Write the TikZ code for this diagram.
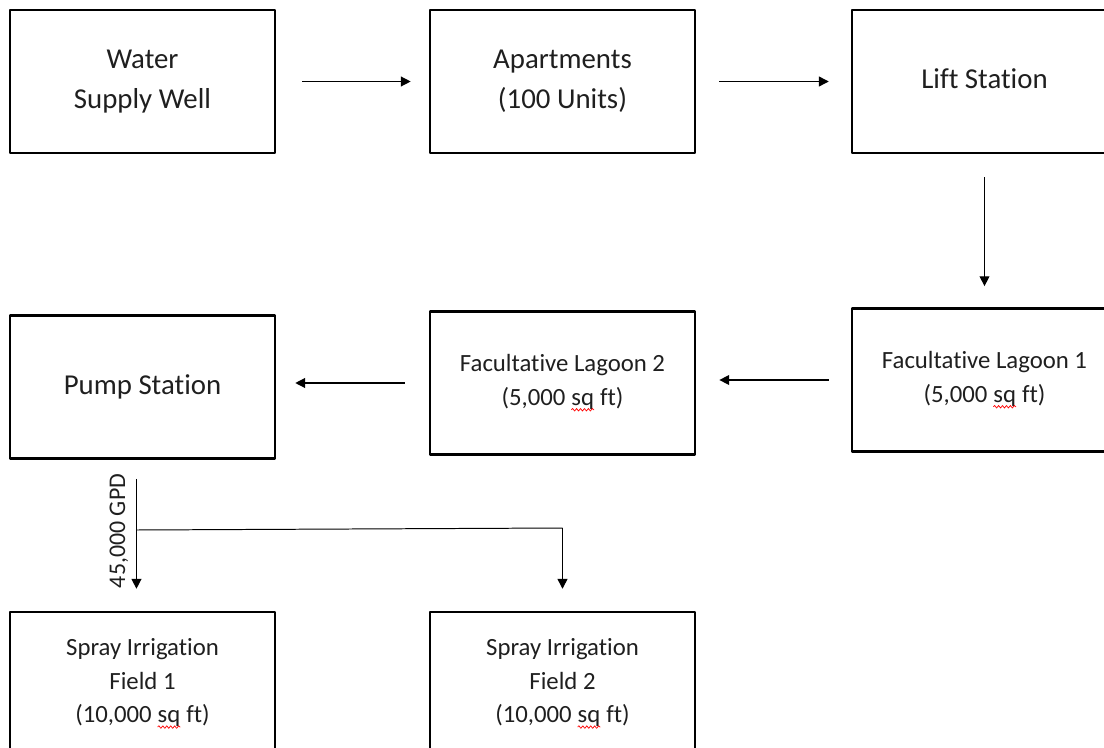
\documentclass[tikz,border=0pt]{standalone}
\usepackage{fontspec}
\setmainfont{Carlito}[Ligatures=NoCommon]
\usetikzlibrary{arrows.meta, decorations.pathmorphing}
% red wavy spell-check mark under a word
\newcommand{\spellmark}[1]{\tikz[baseline=(w.base)]{\node[draw=none, inner sep=0pt, outer sep=0pt, minimum width=0pt, minimum height=0pt] (w) {#1};
	\draw[red, line width=0.5pt, decorate, decoration={snake, amplitude=0.9pt, segment length=2.8pt}] ([yshift=-3pt]w.base west) -- ([yshift=-3pt]w.base east);}}

\begin{document}
\begin{tikzpicture}[x=0.025cm, y=-0.025cm, line join=round, >={Triangle[length=7pt,width=7pt]},
	stage/.style={draw, line width=1.8pt, minimum width=6.625cm, minimum height=3.575cm, align=center, inner sep=0pt, text=black!88},
	bigtext/.style={font=\fontsize{20.5}{28.4}\selectfont},
	smalltext/.style={font=\fontsize{17.6}{24}\selectfont},
	flow/.style={->, line width=0.9pt}]
			\clip (0,0) rectangle (1104,748);
			% top row
			\node[stage, bigtext] (well) at (142.5,81.5) {Water\\Supply Well};
			\node[stage, bigtext] (apt) at (562.5,81.5) {Apartments\\(100 Units)};
			\node[stage, bigtext, text depth=4pt] (lift) at (984.5,81.5) {Lift Station};
			% middle row
			\node[stage, smalltext] (lag1) at (984.5,380) {Facultative Lagoon 1\\(5,000 \spellmark{sq} ft)};
			\node[stage, smalltext] (lag2) at (562.5,383) {Facultative Lagoon 2\\(5,000 \spellmark{sq} ft)};
			\node[stage, bigtext] (pump) at (142.5,387) {Pump Station};
			% bottom row
			\node[stage, smalltext] (field1) at (142.5,683.5) {Spray Irrigation\\Field 1\\(10,000 \spellmark{sq} ft)};
			\node[stage, smalltext] (field2) at (562.5,683.5) {Spray Irrigation\\Field 2\\(10,000 \spellmark{sq} ft)};
			% flows
			\draw[flow, shorten <=18.5pt, shorten >=12.8pt] (well) -- (apt);
			\draw[flow, shorten <=16.4pt, shorten >=15.6pt] (apt) -- (lift);
			\draw[flow, shorten <=16.4pt, shorten >=15pt] (lift) -- (lag1);
			\draw[flow, shorten <=15.6pt, shorten >=16.4pt] (lag1.west) -- (lag2.east |- lag1.west);
			\draw[flow, shorten <=17pt, shorten >=13.5pt] (lag2.west) -- (pump.east |- lag2.west);
			% split to the fields
			\coordinate (tap) at ([xshift=-4.3pt]pump.south);
			\coordinate (split) at (tap |- 0,530);
			\coordinate (turn) at (field2.north |- 0,528);
			\draw[flow, shorten <=13.5pt, shorten >=15.6pt] (tap) -- (tap |- field1.north);
			\draw[line width=0.7pt] (split) -- (turn);
			\draw[flow, shorten >=15.6pt] (turn) -- (field2.north);
			\node[rotate=90, font=\fontsize{17}{20}\selectfont, text=black!88] (gpd) at (119,531) {45,000 GPD};
\end{tikzpicture}
\end{document}
